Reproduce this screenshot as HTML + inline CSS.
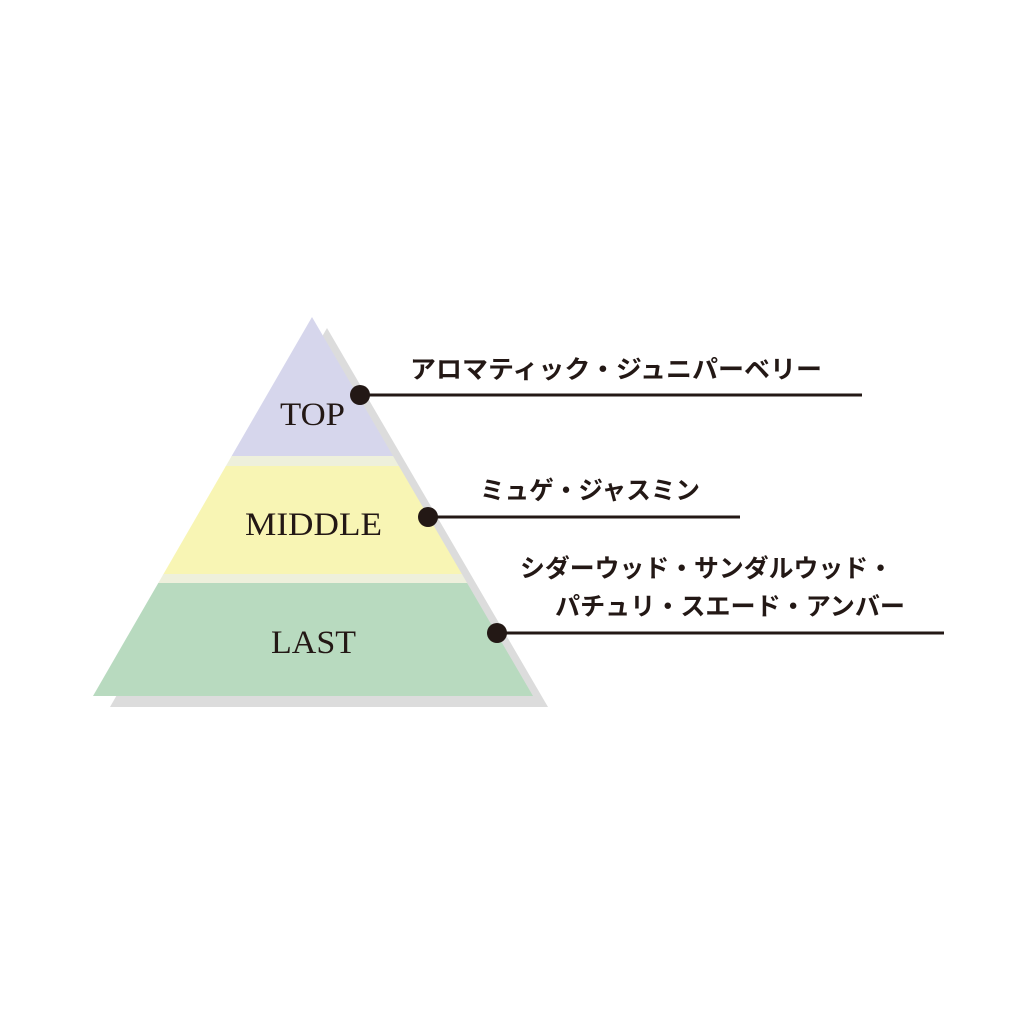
<!DOCTYPE html>
<html><head><meta charset="utf-8"><style>
html,body{margin:0;padding:0;background:#fff;}
svg{display:block}
.jp{font-family:"Liberation Sans","Noto Sans CJK JP",sans-serif;font-weight:bold;font-size:25px;fill:#231815}
.en{font-family:"Liberation Serif",serif;font-size:33px;fill:#231815}
</style></head><body>
<svg width="1024" height="1024" viewBox="0 0 1024 1024" xmlns="http://www.w3.org/2000/svg">
<rect width="1024" height="1024" fill="#fff"/>
<polygon points="327,328 548,707 110,707" fill="#dcdcdc"/>
<defs><clipPath id="tri"><polygon points="312,317 533,696 93,696"/></clipPath></defs>
<g clip-path="url(#tri)">
<rect x="80" y="300" width="480" height="157" fill="#d6d6ec"/>
<rect x="80" y="456" width="480" height="11" fill="#eef0dc"/>
<rect x="80" y="466" width="480" height="109" fill="#f8f5b4"/>
<rect x="80" y="574" width="480" height="10" fill="#eef0dc"/>
<rect x="80" y="583" width="480" height="114" fill="#b8dabf"/>
</g>
<text class="en" x="280" y="425" textLength="65" lengthAdjust="spacingAndGlyphs">TOP</text>
<text class="en" x="245" y="535" textLength="137" lengthAdjust="spacingAndGlyphs">MIDDLE</text>
<text class="en" x="271" y="653" textLength="85" lengthAdjust="spacingAndGlyphs">LAST</text>
<g stroke="#231815" stroke-width="3">
<line x1="360" y1="395" x2="862" y2="395"/>
<line x1="428" y1="517" x2="740" y2="517"/>
<line x1="497" y1="633" x2="944" y2="633"/>
</g>
<g fill="#231815">
<circle cx="360" cy="395" r="10"/>
<circle cx="428" cy="517" r="10"/>
<circle cx="497" cy="633" r="10"/>
</g>
<text class="jp" x="410" y="378" textLength="412" lengthAdjust="spacingAndGlyphs">アロマティック・ジュニパーベリー</text>
<text class="jp" x="480" y="499" textLength="220" lengthAdjust="spacingAndGlyphs">ミュゲ・ジャスミン</text>
<text class="jp" x="520" y="577" textLength="373" lengthAdjust="spacingAndGlyphs">シダーウッド・サンダルウッド・</text>
<text class="jp" x="555" y="615" textLength="350" lengthAdjust="spacingAndGlyphs">パチュリ・スエード・アンバー</text>
</svg>
</body></html>
